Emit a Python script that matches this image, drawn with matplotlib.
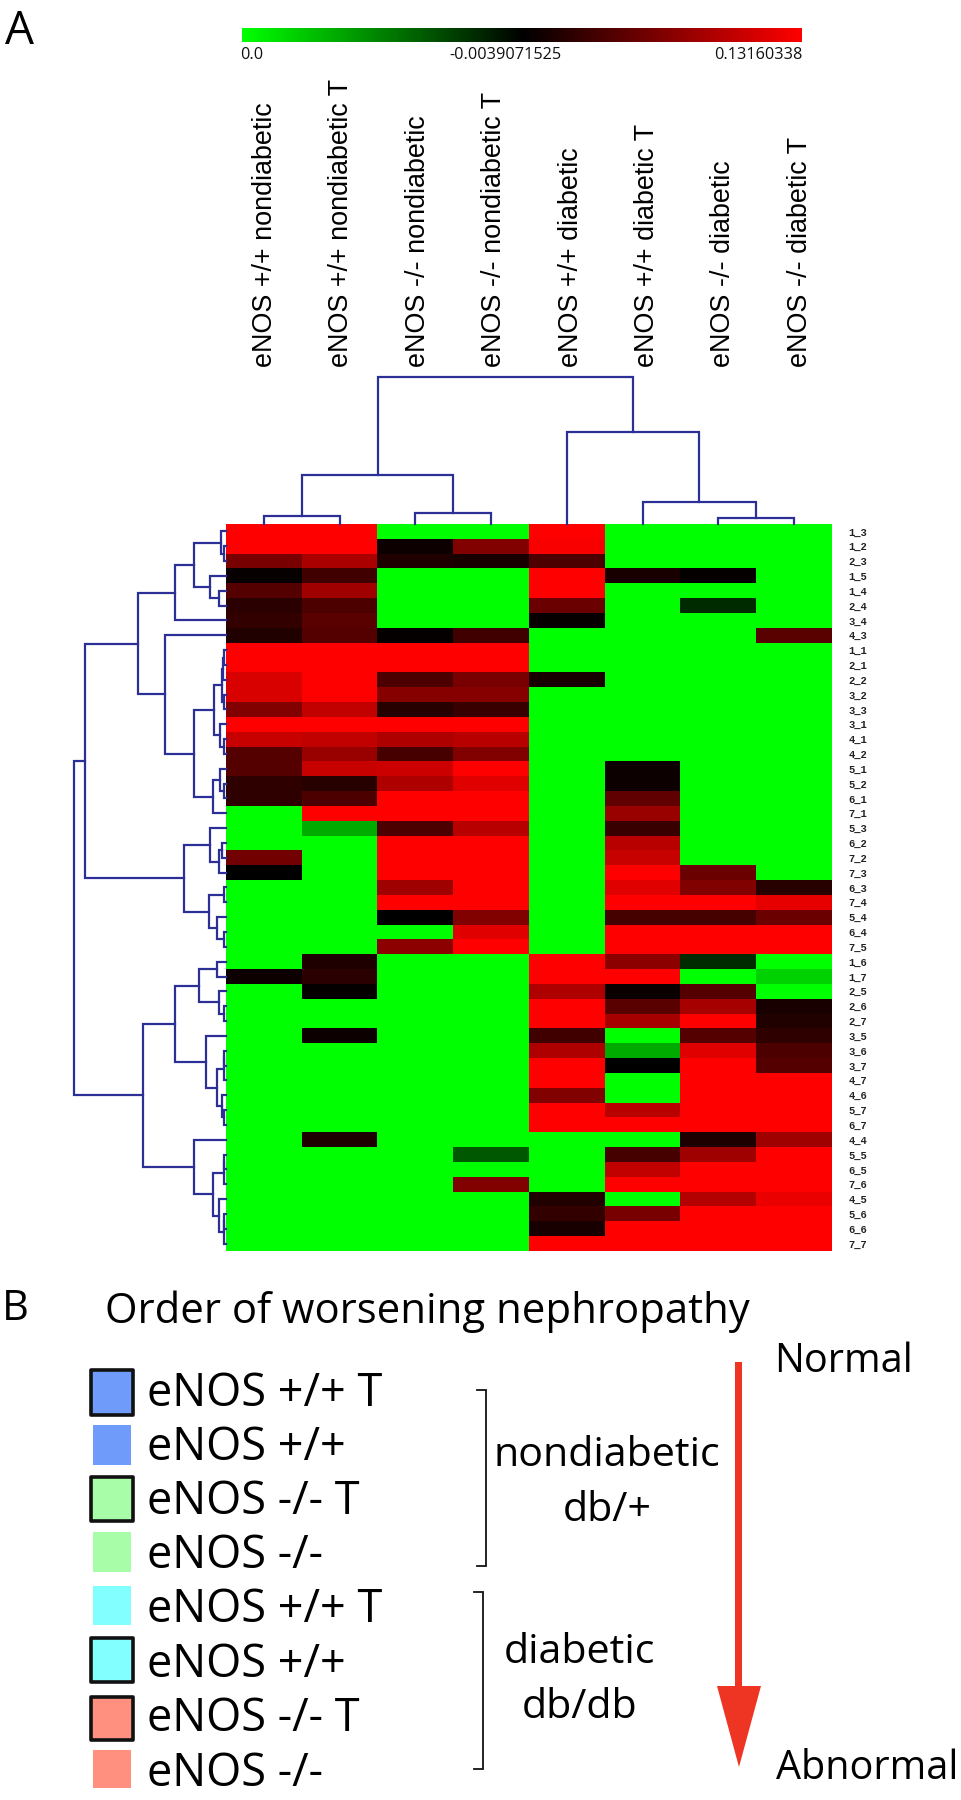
import matplotlib
matplotlib.use("Agg")
import matplotlib.pyplot as plt
import numpy as np
from matplotlib.colors import LinearSegmentedColormap
from matplotlib.patches import Rectangle, Polygon

W, H = 962, 1800
columns = ["eNOS +/+ nondiabetic", "eNOS +/+ nondiabetic T", "eNOS -/- nondiabetic", "eNOS -/- nondiabetic T",
           "eNOS +/+ diabetic", "eNOS +/+ diabetic T", "eNOS -/- diabetic", "eNOS -/- diabetic T"]
rows = ["1_3","1_2","2_3","1_5","1_4","2_4","3_4","4_3","1_1","2_1","2_2","3_2","3_3","3_1","4_1","4_2",
        "5_1","5_2","6_1","7_1","5_3","6_2","7_2","7_3","6_3","7_4","5_4","6_4","7_5","1_6","1_7","2_5",
        "2_6","2_7","3_5","3_6","3_7","4_7","4_6","5_7","6_7","4_4","5_5","6_5","7_6","4_5","5_6","6_6","7_7"]
G = -1
matrix = [
 [1,1,G,G,1,G,G,G],[1,1,.05,.5,.97,G,G,G],[.47,.67,.12,.1,.3,G,G,G],[.03,.25,G,G,1,.1,.02,G],
 [.33,.63,G,G,1,G,G,G],[.17,.3,G,G,.42,G,-.17,G],[.2,.35,G,G,.03,G,G,G],[.13,.33,.02,.25,G,G,G,.35],
 [1,1,1,1,G,G,G,G],[1,1,1,1,G,G,G,G],[.85,1,.3,.47,.1,G,G,G],[.85,1,.53,.53,G,G,G,G],
 [.5,.75,.15,.22,G,G,G,G],[1,1,1,1,G,G,G,G],[.78,.75,.68,.72,G,G,G,G],[.33,.6,.28,.5,G,G,G,G],
 [.33,.78,.8,1,G,.05,G,G],[.18,.15,.68,.88,G,.05,G,G],[.18,.3,1,1,G,.38,G,G],[G,1,1,1,G,.6,G,G],
 [G,-.67,.3,.72,G,.22,G,G],[G,G,1,1,G,.72,G,G],[.45,G,1,1,G,.78,G,G],[0,G,1,1,G,1,.42,G],
 [G,G,.62,1,G,.88,.5,.15],[G,G,1,1,G,1,1,.9],[G,G,0,.5,G,.27,.27,.42],[G,G,G,.88,G,1,1,1],
 [G,G,.55,1,G,1,1,1],[G,.12,G,G,1,.55,-.17,G],[.05,.17,G,G,1,1,G,-.82],[G,.02,G,G,.68,.04,.33,G],
 [G,G,G,G,1,.35,.65,.1],[G,G,G,G,1,.65,1,.13],[G,.05,G,G,.25,G,.33,.18],[G,G,G,G,.68,-.67,.88,.3],
 [G,G,G,G,1,0,1,.33],[G,G,G,G,1,G,1,1],[G,G,G,G,.5,G,1,1],[G,G,G,G,1,.72,1,1],
 [G,G,G,G,1,1,1,1],[G,.12,G,G,G,G,.12,.62],[G,G,G,-.35,G,.27,.62,1],[G,G,G,G,G,.75,1,1],
 [G,G,G,.5,G,1,1,1],[G,G,G,G,.13,G,.7,.92],[G,G,G,G,.2,.47,1,1],[G,G,G,G,.1,1,1,1],[G,G,G,G,1,1,1,1],
]
# dendrograms: (merge height, left child, right child); integer = leaf index
col_tree = (1.0, (.333, (.054, 0, 1), (.075, 2, 3)), (.626, 4, (.15, 5, (.044, 6, 7))))
row_A = (51.3, (31.7, (4.7, 0, (2.3, 1, 2)), (15.7, 3, (7.3, 4, 5))), 6)
row_C = (12.3, (4, (3, (2.3, 8, 9), 10), (2.3, 11, 12)), (5.7, 13, (2.3, 14, 15)))
row_D = (13.3, (5.7, 16, (2.3, 17, 18)), 19)
row_F = (61, 7, (31.7, row_C, row_D))
row_H = (42.3, (15.7, 20, (7.3, (4, 21, 22), 23)), (16.7, (2.3, 24, 25), (9, 26, (2.3, 27, 28))))
row_J = (51.3, (27.3, (9, 29, 30), (7.3, 31, (2.3, 32, 33))),
         (20, 34, (9, (2.3, (2, 35, 36), 37), (4, 38, (2.3, 39, 40)))))
row_K = (31.7, 41, (13.3, (2.3, (2, 42, 43), 44), (7.3, 45, (2.3, (2, 46, 47), 48))))
row_tree = (151.7, (141, (88, row_A, row_F), row_H), (83.3, row_J, row_K))
scale_labels = ["0.0", "-0.0039071525", "0.13160338"]
legend_labels = ["eNOS +/+ T", "eNOS +/+", "eNOS -/- T", "eNOS -/-", "eNOS +/+ T", "eNOS +/+", "eNOS -/- T", "eNOS -/-"]
legend_colors = ["#6f9bfb", "#6f9bfb", "#a8fda8", "#a8fda8", "#82ffff", "#82ffff", "#ff9080", "#ff9080"]
legend_framed = [True, False, True, False, False, True, True, False]

TREE = "#2b2f96"
cmap = LinearSegmentedColormap.from_list("gbr", ["#00ff00", "#000000", "#ff0000"])
fig = plt.figure(figsize=(W/100, H/100), dpi=100, facecolor="white")

def box(x0, y0, x1, y1):
    return fig.add_axes([x0/W, 1-y1/H, (x1-x0)/W, (y1-y0)/H])

hx0, hx1, hy0, hy1 = 226, 832, 524, 1251
ax = box(hx0, hy0, hx1, hy1)
ax.imshow(np.array(matrix, float), cmap=cmap, vmin=-1, vmax=1, aspect="auto", interpolation="nearest",
          extent=(0, len(columns), len(rows), 0))
ax.set_xticks([]); ax.set_yticks(np.arange(len(rows))+.5, rows, family="Liberation Mono", fontsize=7.6, fontweight="bold", color="#222222")
ax.yaxis.tick_right(); ax.tick_params(axis="y", length=0, pad=12)
for s in ax.spines.values(): s.set_visible(False)

def draw_tree(node, axis, vertical):
    if not isinstance(node, tuple):
        return node + .5, 0
    h, l, r = node
    pl, hl = draw_tree(l, axis, vertical)
    pr, hr = draw_tree(r, axis, vertical)
    a, b = [pl, pl, pr, pr], [hl, h, h, hr]
    axis.plot(*((a, b) if vertical else (b, a)), color=TREE, lw=1.6, solid_joinstyle="miter", clip_on=False)
    return (pl + pr)/2, h

top = box(hx0, 377, hx1, 524)
top.set_xlim(0, len(columns)); top.set_ylim(0, 1); top.axis("off")
draw_tree(col_tree, top, True)
left = box(226-151.7, hy0, 226, hy1)
left.set_xlim(151.7, 0); left.set_ylim(len(rows), 0); left.axis("off")
draw_tree(row_tree, left, False)

cax = box(242.5, 28, 802.5, 42)
cb = fig.colorbar(plt.cm.ScalarMappable(norm=plt.Normalize(-1, 1), cmap=cmap), cax=cax, orientation="horizontal")
cb.set_ticks([]); cb.outline.set_visible(False)

o = fig.add_axes([0, 0, 1, 1], facecolor="none")
o.set_xlim(0, W); o.set_ylim(H, 0); o.axis("off")
SANS = "Open Sans"
for x, s, ha in zip([240, 505, 802.5], scale_labels, ["left", "center", "right"]):
    o.text(x, 59, s, ha=ha, va="baseline", family=SANS, fontsize=11.7, color="#111111")
for i, c in enumerate(columns):
    o.text(265 + 76.4*i, 367, c, rotation=90, ha="center", va="bottom", family="Liberation Sans", fontsize=19.4)

o.text(5, 44, "A", family=SANS, fontsize=33, va="baseline")
o.text(2, 1320, "B", family=SANS, fontsize=30, va="baseline")
o.text(105, 1323, "Order of worsening nephropathy", family=SANS, fontsize=30.2, va="baseline")

sw_top = [1368, 1425, 1475, 1532, 1586, 1636, 1695, 1750]
sw_bot = [1416, 1465, 1522, 1572, 1625, 1683, 1741, 1788]
base = [1406, 1460, 1514, 1568, 1622, 1677, 1731, 1786]
for i, lab in enumerate(legend_labels):
    if legend_framed[i]:
        o.add_patch(Rectangle((91.5, sw_top[i]+1.5), 42, sw_bot[i]-sw_top[i]-3, fc=legend_colors[i], ec="#111111", lw=2.6, joinstyle="round"))
    else:
        o.add_patch(Rectangle((93, sw_top[i]), 38, sw_bot[i]-sw_top[i], fc=legend_colors[i], ec="none"))
    o.text(147, base[i], lab, family=SANS, fontsize=32.5, va="baseline")

for x0, x1, y0, y1 in [(477, 486, 1390, 1566), (474, 483, 1592, 1769)]:
    o.plot([x0, x1, x1, x0], [y0, y0, y1, y1], color="#111111", lw=1.3, solid_joinstyle="miter")
o.text(607, 1466, "nondiabetic", family=SANS, fontsize=29.7, ha="center", va="baseline")
o.text(607, 1521, "db/+", family=SANS, fontsize=29.7, ha="center", va="baseline")
o.text(580, 1663, "diabetic", family=SANS, fontsize=29.7, ha="center", va="baseline")
o.text(580, 1718, "db/db", family=SANS, fontsize=29.7, ha="center", va="baseline")
o.text(774, 1372, "Normal", family=SANS, fontsize=28.5, va="baseline")
o.text(776, 1779, "Abnormal", family=SANS, fontsize=28.5, va="baseline")

ARROW = "#ee3524"
o.add_patch(Rectangle((735.5, 1362), 7, 326, fc=ARROW, ec="none"))
o.add_patch(Polygon([(717, 1686), (761, 1686), (739, 1767)], closed=True, fc=ARROW, ec="none"))
fig.savefig("out.png", dpi=100)
